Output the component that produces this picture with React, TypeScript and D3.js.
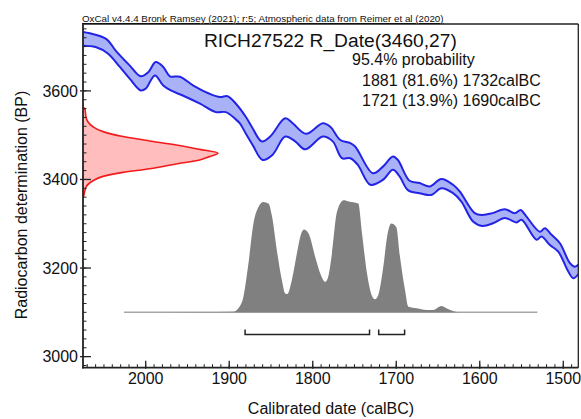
import React from "react";
import * as d3 from "d3";

// ---- data ----
const headerText = "OxCal v4.4.4 Bronk Ramsey (2021); r:5; Atmospheric data from Reimer et al (2020)";
const titleText = "RICH27522 R_Date(3460,27)";
const probText = "95.4% probability";
const rangeTexts = ["1881 (81.6%) 1732calBC", "1721 (13.9%) 1690calBC"];
const xAxisTitle = "Calibrated date (calBC)";
const yAxisTitle = "Radiocarbon determination (BP)";

const xTicks = [2000, 1900, 1800, 1700, 1600, 1500];
const yTicks = [3000, 3200, 3400, 3600];

// calibration curve upper edge [calBC, BP]
const upperEdge: [number, number][] = [
  [2075, 3733], [2067, 3730], [2047, 3717], [2036, 3691], [2019, 3657], [2006, 3633],
  [1997, 3642], [1988, 3665], [1979, 3654], [1971, 3633], [1959, 3632], [1943, 3612],
  [1923, 3593], [1911, 3586], [1902, 3588], [1892, 3571], [1880, 3541], [1873, 3519],
  [1861, 3486], [1851, 3497], [1833, 3538], [1824, 3527], [1808, 3503], [1788, 3527],
  [1779, 3519], [1767, 3489], [1755, 3482], [1749, 3474], [1728, 3414], [1716, 3429],
  [1704, 3452], [1698, 3444], [1684, 3397], [1672, 3392], [1660, 3384], [1646, 3401],
  [1632, 3388], [1624, 3373], [1606, 3324], [1597, 3320], [1585, 3324], [1570, 3333],
  [1558, 3324], [1551, 3331], [1544, 3316], [1528, 3282], [1522, 3290], [1514, 3275],
  [1504, 3256], [1492, 3211], [1486, 3203], [1481, 3209],
];
// calibration curve lower edge [calBC, BP]
const lowerEdge: [number, number][] = [
  [2075, 3702], [2060, 3699], [2045, 3684], [2031, 3654], [2019, 3627], [2006, 3601],
  [2000, 3605], [1989, 3635], [1979, 3612], [1970, 3601], [1955, 3589], [1935, 3571],
  [1916, 3552], [1904, 3552], [1893, 3537], [1887, 3526], [1880, 3503], [1872, 3478],
  [1860, 3444], [1848, 3456], [1833, 3497], [1821, 3486], [1809, 3468], [1788, 3497],
  [1776, 3486], [1765, 3448], [1755, 3448], [1746, 3433], [1731, 3388], [1716, 3399],
  [1704, 3422], [1696, 3407], [1686, 3376], [1672, 3369], [1658, 3365], [1646, 3380],
  [1632, 3369], [1622, 3350], [1608, 3305], [1597, 3295], [1584, 3301], [1570, 3313],
  [1556, 3303], [1550, 3309], [1532, 3264], [1526, 3271], [1516, 3252], [1506, 3237],
  [1494, 3192], [1488, 3177], [1481, 3188],
];

// radiocarbon measurement distribution [BP, relative density]
const measurement: [number, number][] = [
  [3562, 0], [3561, 0.013], [3538, 0.024], [3519, 0.074], [3508, 0.148], [3497, 0.296],
  [3487, 0.494], [3478, 0.691], [3468, 0.864], [3459, 1.0], [3451, 0.93], [3444, 0.864],
  [3435, 0.691], [3424, 0.494], [3416, 0.296], [3407, 0.148], [3397, 0.074],
  [3384, 0.024], [3365, 0.007], [3358, 0],
];

// calibrated probability distribution [calBC, relative density]
const calibrated: [number, number][] = [
  [2026, 0], [1935, 0.004], [1895, 0.006], [1889, 0.036], [1883, 0.139], [1877, 0.436],
  [1871, 0.793], [1865, 0.94], [1859, 0.985], [1853, 0.971], [1849, 0.866], [1843, 0.555],
  [1837, 0.288], [1833, 0.169], [1830.5, 0.163], [1825, 0.288], [1819, 0.525],
  [1815, 0.673], [1810.5, 0.739], [1805, 0.703], [1797, 0.495], [1791, 0.347],
  [1785, 0.272], [1781, 0.332], [1777, 0.525], [1771, 0.896], [1763, 1.0], [1757, 0.99],
  [1745.5, 0.971], [1741, 0.703], [1735, 0.347], [1729, 0.145], [1725.5, 0.116],
  [1721.5, 0.154], [1715.5, 0.406], [1711, 0.673], [1706, 0.793], [1700, 0.762],
  [1695.5, 0.495], [1689.5, 0.199], [1685.5, 0.05], [1675.5, 0.036], [1664, 0.02],
  [1656, 0.02], [1646, 0.056], [1640, 0.036], [1624, 0.0], [1531, 0],
];

// 95.4% ranges [from, to] calBC
const ranges: [number, number][] = [[1881, 1732], [1721, 1690]];

const W = 581;
const H = 419;
const FONT = "'Liberation Sans', Arial, Helvetica, sans-serif";

export default function App() {
  const left = 83, right = 578.3, top = 24, bottom = 367.7;
  const x = d3.scaleLinear().domain([2075.1, 1482]).range([left, right]);
  const y = d3.scaleLinear().domain([2975, 3751]).range([bottom, top]);

  const measX = d3.scaleLinear().domain([0, 1]).range([left, left + 135]);
  const baseY = y(3100);
  const calY = d3.scaleLinear().domain([0, 1]).range([baseY, baseY - 112]);

  const curveLine = d3
    .line<[number, number]>()
    .x((d) => x(d[0]))
    .y((d) => y(d[1]))
    .curve(d3.curveCatmullRom.alpha(0.5));

  const upPath = curveLine(upperEdge) || "";
  const lowPath = curveLine(lowerEdge) || "";
  const lowRev = (curveLine([...lowerEdge].reverse()) || "").replace(/^M/, "L");
  const bandPath = upPath + lowRev + "Z";

  const measArea = d3
    .area<[number, number]>()
    .y((d) => y(d[0]))
    .x0(left)
    .x1((d) => measX(d[1]))
    .curve(d3.curveMonotoneY);
  const measLine = d3
    .line<[number, number]>()
    .y((d) => y(d[0]))
    .x((d) => measX(d[1]))
    .curve(d3.curveMonotoneY);
  const measSorted = [...measurement].sort((a, b) => b[0] - a[0]);

  const calArea = d3
    .area<[number, number]>()
    .x((d) => x(d[0]))
    .y0(baseY)
    .y1((d) => calY(d[1]))
    .curve(d3.curveMonotoneX);

  const xMinor = d3.range(1490, 2080, 10);
  const yMinor = d3.range(2980, 3751, 20);
  const axisColor = "#222";

  const bracketY = y(3050);

  return (
    <svg
      width={W}
      height={H}
      style={{ position: "absolute", left: 0, top: 0, background: "#fff" }}
      fontFamily={FONT}
    >
      <defs>
        <clipPath id="plotClip">
          <rect x={left} y={top} width={right - left} height={bottom - top} />
        </clipPath>
      </defs>
      <rect x={0} y={0} width={W} height={H} fill="#fff" />

      {/* calibrated distribution */}
      <line x1={x(calibrated[0][0])} x2={x(calibrated[calibrated.length - 1][0])} y1={baseY} y2={baseY} stroke="#a6a6a6" strokeWidth={1.5} />
      <path d={calArea(calibrated) || ""} fill="#808080" />

      {/* measurement distribution */}
      <g clipPath="url(#plotClip)">
        <path d={measArea(measSorted) || ""} fill="#ffbdbd" />
        <path d={measLine(measSorted) || ""} fill="none" stroke="#f21a1a" strokeWidth={1.6} />
      </g>

      {/* calibration curve */}
      <g clipPath="url(#plotClip)">
        <path d={bandPath} fill="#a9b2f7" />
        <path d={upPath} fill="none" stroke="#2323e6" strokeWidth={2} />
        <path d={lowPath} fill="none" stroke="#2323e6" strokeWidth={2} />
      </g>

      {/* ranges */}
      {ranges.map((r, i) => (
        <path
          key={i}
          d={`M${x(r[0])},${bracketY - 5}V${bracketY}H${x(r[1])}V${bracketY - 5}`}
          fill="none"
          stroke="#222"
          strokeWidth={1.5}
        />
      ))}

      {/* frame */}
      <line x1={left} x2={right} y1={top} y2={top} stroke={axisColor} strokeWidth={1.3} />
      <line x1={right} x2={right} y1={top} y2={bottom} stroke={axisColor} strokeWidth={1.3} />
      <line x1={left} x2={left} y1={top} y2={bottom + 0.8} stroke={axisColor} strokeWidth={1.8} />
      <line x1={left - 0.8} x2={right} y1={bottom} y2={bottom} stroke={axisColor} strokeWidth={1.8} />

      {/* x ticks */}
      {xMinor.map((v) => (
        <line key={"xm" + v} x1={x(v)} x2={x(v)} y1={bottom} y2={bottom - 3.5} stroke={axisColor} strokeWidth={1} />
      ))}
      {xTicks.map((v) => (
        <g key={"xt" + v}>
          <line x1={x(v)} x2={x(v)} y1={bottom + 1} y2={bottom - 7} stroke={axisColor} strokeWidth={1.3} />
          <text x={x(v)} y={bottom + 16} textAnchor="middle" fontSize={16} fill="#111">
            {v}
          </text>
        </g>
      ))}

      {/* y ticks */}
      {yMinor.map((v) => (
        <line key={"ym" + v} x1={left} x2={left + 3.5} y1={y(v)} y2={y(v)} stroke={axisColor} strokeWidth={1} />
      ))}
      {yTicks.map((v) => (
        <g key={"yt" + v}>
          <line x1={left - 3} x2={left + 8} y1={y(v)} y2={y(v)} stroke={axisColor} strokeWidth={1.3} />
          <text x={left - 5} y={y(v)} dy="0.36em" textAnchor="end" fontSize={16} fill="#111">
            {v}
          </text>
        </g>
      ))}

      {/* texts */}
      <text x={82} y={22} fontSize={9.8} fill="#111" textDecoration="underline">
        {headerText}
      </text>
      <text x={204} y={47} fontSize={19.2} fill="#111">
        {titleText}
      </text>
      <text x={352} y={64.5} fontSize={16} fill="#111">
        {probText}
      </text>
      {rangeTexts.map((t, i) => (
        <text key={t} x={362} y={85.5 + i * 20.5} fontSize={16} fill="#111">
          {t}
        </text>
      ))}
      <text x={331} y={414} textAnchor="middle" fontSize={16} fill="#111">
        {xAxisTitle}
      </text>
      <text
        transform={`translate(27,205) rotate(-90)`}
        textAnchor="middle"
        fontSize={16}
        fill="#111"
      >
        {yAxisTitle}
      </text>
    </svg>
  );
}
